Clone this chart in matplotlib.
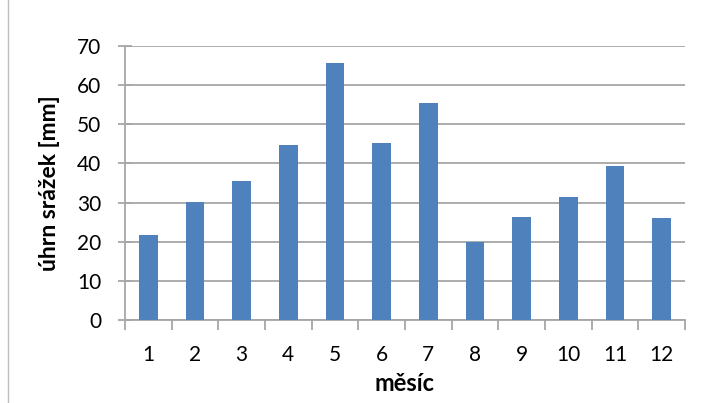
import numpy as np
import matplotlib.pyplot as plt
from matplotlib.lines import Line2D

months = [1, 2, 3, 4, 5, 6, 7, 8, 9, 10, 11, 12]
precip = [21.8, 30.1, 35.6, 44.7, 65.7, 45.2, 55.4, 20.0, 26.2, 31.3, 39.4, 26.1]
y_ticks = [0, 10, 20, 30, 40, 50, 60, 70]

plt.rcParams['font.family'] = ['Lato', 'DejaVu Sans']

fig = plt.figure(figsize=(7.05, 4.03), dpi=100)
ax = fig.add_axes([125 / 705, 1 - 320 / 403, 560 / 705, 274 / 403])

grid_col = '#a6a6a6'
ax.bar(months, precip, width=0.4, color='#4f81bd', zorder=3)

ax.set_xlim(0.5, 12.5)
ax.set_ylim(0, 70)
ax.set_yticks(y_ticks)
ax.set_xticks(months)
ax.set_xticks(np.arange(0.5, 13, 1), minor=True)
ax.yaxis.grid(True, color=grid_col, linewidth=1.3, zorder=0)

for s in ['top', 'right']:
    ax.spines[s].set_visible(False)
for s in ['left', 'bottom']:
    ax.spines[s].set_color(grid_col)
    ax.spines[s].set_linewidth(1.3)

ax.tick_params(axis='y', direction='inout', length=10, width=1.3, color=grid_col,
               labelsize=15, pad=12)
ax.tick_params(axis='x', which='major', length=0, labelsize=15, pad=18)
ax.tick_params(axis='x', which='minor', length=7, width=1.3, color=grid_col)

ax.set_xlabel('měsíc', fontsize=17, fontweight='bold', labelpad=5)
ax.set_ylabel('úhrn srážek [mm]', fontsize=16.5, fontweight='bold', labelpad=12)

# chart frame edge visible at the left
fig.add_artist(Line2D([8 / 705, 8 / 705], [0, 1], color='#bfbfbf', linewidth=1))

fig.savefig('out.png', dpi=100)
